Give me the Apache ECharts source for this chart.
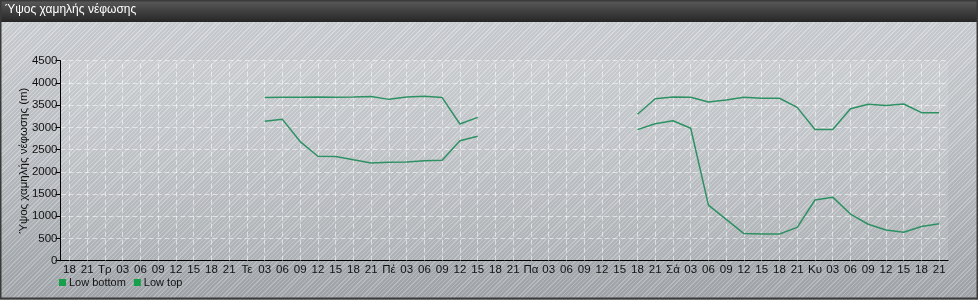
<!DOCTYPE html>
<html>
<head>
<meta charset="utf-8">
<script src="https://cdn.jsdelivr.net/npm/echarts@6/dist/echarts.min.js"></script>
<style>
html,body{margin:0;padding:0;}
#chart{width:978px;height:300px;
background:
 repeating-linear-gradient(135deg, rgba(255,255,255,0.16) 0px, rgba(255,255,255,0.16) 1px, rgba(0,0,0,0.05) 1px, rgba(0,0,0,0.05) 3px),
 linear-gradient(180deg, #d4d7db 0%, #c2c6ca 50%, #a6abb0 100%);}
</style>
</head>
<body>
<div id="chart"></div>
<script>
var titleText = 'Ύψος χαμηλής νέφωσης';
var yAxisName = 'Ύψος χαμηλής νέφωσης (m)';
var categories = ['18','21',
 'Τρ','03','06','09','12','15','18','21',
 'Τε','03','06','09','12','15','18','21',
 'Πέ','03','06','09','12','15','18','21',
 'Πα','03','06','09','12','15','18','21',
 'Σά','03','06','09','12','15','18','21',
 'Κυ','03','06','09','12','15','18','21'];
var lowBottom = [null,null,null,null,null,null,null,null,null,null,null,
 3140,3180,2680,2350,2345,2270,2200,2215,2220,2250,2260,2700,2800,
 null,null,null,null,null,null,null,null,
 2950,3080,3150,2980,1250,930,610,600,600,750,1365,1430,1050,820,690,640,770,830];
var lowTop = [null,null,null,null,null,null,null,null,null,null,null,
 3670,3675,3680,3685,3680,3685,3695,3630,3685,3700,3670,3075,3225,
 null,null,null,null,null,null,null,null,
 3295,3645,3685,3678,3570,3615,3678,3655,3655,3450,2950,2950,3420,3520,3490,3525,3330,3330];
var yMin = 0, yMax = 4500, yStep = 500;

var font = 'Liberation Sans, Arial, sans-serif';
var chart = echarts.init(document.getElementById('chart'), null, {renderer:'canvas'});
var lineColor = '#2e9163';
var markColor = '#17a04c';
chart.setOption({
  backgroundColor: 'transparent',
  animation: false,
  graphic: [
    {type:'rect', z:0, shape:{x:0,y:0,width:978,height:22},
     style:{fill:new echarts.graphic.LinearGradient(0,0,0,1,[{offset:0,color:'#5b5b5b'},{offset:1,color:'#262626'}])}},
    {type:'rect', z:0, shape:{x:0.5,y:0.5,width:977,height:298},
     style:{fill:null, stroke:'#3a3a3a', lineWidth:2}}
  ],
  title: {text: titleText, left: 5, top: 4, padding: 0,
    textStyle: {color:'#ffffff', fontSize:12, fontWeight:'normal', fontFamily: font}},
  legend: {left: 59, top: 277, padding: 0, itemWidth: 7, itemHeight: 7, itemGap: 8,
    icon: 'rect',
    textStyle: {fontSize: 11, color:'#111', fontFamily: font, padding:[0,0,0,-2]},
    data: ['Low bottom','Low top']},
  grid: {left: 60.5, right: 29.9, top: 60.7, bottom: 39.3, show: true,
    backgroundColor: 'rgba(255,255,255,0.10)', borderWidth: 0},
  xAxis: [{
    type: 'category', data: categories, boundaryGap: true,
    axisLine: {lineStyle: {color:'#000', width:1}},
    axisTick: {alignWithLabel: true, length: 4, lineStyle:{color:'#222'}},
    axisLabel: {interval: 0, color:'#111', fontSize: 11.5, fontFamily: font, margin: 3},
    splitLine: {show:false}
  },{
    type: 'category', data: categories, boundaryGap: true, position:'bottom',
    axisLine: {show:false},
    axisTick: {show:true, inside:true, alignWithLabel: true, interval:0, length: 200,
      lineStyle:{color:'rgba(255,255,255,0.55)', type:[5,3], width:1}},
    axisLabel: {show:false},
    splitLine: {show:false}
  }],
  yAxis: {
    type: 'value', min: yMin, max: yMax, interval: yStep,
    name: yAxisName, nameLocation: 'middle', nameGap: 31, nameRotate: 90, nameMoveOverlap: false,
    nameTextStyle: {color:'#111', fontSize: 11.5, fontFamily: font},
    axisLine: {show:true, lineStyle:{color:'#000'}},
    axisTick: {show:true, length: 5, lineStyle:{color:'#000'}},
    axisLabel: {color:'#111', fontSize: 11.5, fontFamily: font, margin: 3,
      formatter: function(v){ return String(v); }},
    splitLine: {show:true, lineStyle:{color:'rgba(255,255,255,0.55)', type:[5,3]}}
  },
  series: [
    {name:'Low bottom', type:'line', data: lowBottom, connectNulls:false, showSymbol:false, symbol:'none',
     itemStyle:{color:markColor}, lineStyle:{color:lineColor, width:1.5}},
    {name:'Low top', type:'line', data: lowTop, connectNulls:false, showSymbol:false, symbol:'none',
     itemStyle:{color:markColor}, lineStyle:{color:lineColor, width:1.5}}
  ]
});
</script>
</body>
</html>
